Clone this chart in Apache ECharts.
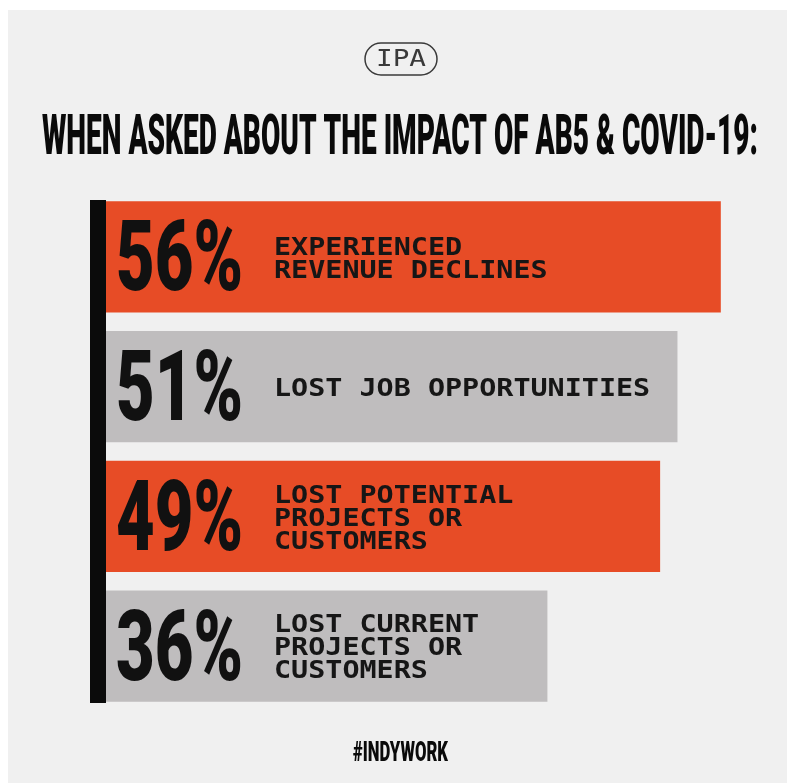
<!DOCTYPE html>
<html>
<head>
<meta charset="utf-8">
<script src="https://cdn.jsdelivr.net/npm/echarts@6/dist/echarts.min.js"></script>
<style>
html,body{margin:0;padding:0;background:#fff;}
#chart{width:787px;height:783px;}
</style>
</head>
<body>
<div id="chart"></div>
<script>
// ---- data ----
const categories = [
  'EXPERIENCED\nREVENUE DECLINES',
  'LOST JOB OPPORTUNITIES',
  'LOST POTENTIAL\nPROJECTS OR\nCUSTOMERS',
  'LOST CURRENT\nPROJECTS OR\nCUSTOMERS'
];
const values = [56, 51, 49, 36];
const pctLabels = values.map(v => v + '%');
const titleText = 'WHEN ASKED ABOUT THE IMPACT OF AB5 & COVID-19:';
const logoText = 'IPA';
const footerText = '#INDYWORK';

// ---- styles ----
const barColors = ['#e74c26', '#bfbdbe', '#e74c26', '#bfbdbe'];
const X_MIN = -14.91, X_MAX = 60;
const PCT_FONT = '900 98px Roboto';
const LBL_FONT = 'bold 24px "DejaVu Sans Mono"';
const TITLE_FONT = '900 56px Roboto';
const FOOT_FONT = '900 28px Roboto';
const LOGO_FONT = '23px "DejaVu Sans Mono"';

const mctx = document.createElement('canvas').getContext('2d');
function textW(t, f){ mctx.font = f; return mctx.measureText(t).width; }
const pctScale = 127 / textW('56%', PCT_FONT);
const lblScale = 17.1 / textW('M', LBL_FONT);
const titleScale = 716 / textW(titleText, TITLE_FONT);
const footScale = 95 / textW(footerText, FOOT_FONT);
const logoScale = 50 / textW(logoText, LOGO_FONT);

function renderItem(params, api){
  const idx = params.dataIndex;
  const v = api.value(0);
  const c = api.value(1);
  const p0 = api.coord([X_MIN, c]);
  const p1 = api.coord([v, c]);
  const band = api.size([0, 1])[1];
  const h = band * 0.858;
  const cy = p1[1];
  return {
    type: 'group',
    children: [
      {type:'rect', shape:{x:p0[0], y:cy - h/2, width:p1[0]-p0[0], height:h}, style:{fill:barColors[idx]}},
      {type:'text', x:p0[0] + 10, y:cy + 9, scaleX:pctScale,
        style:{text:pctLabels[idx], font:PCT_FONT, fill:'#111', align:'left', verticalAlign:'middle'}},
      {type:'text', x:p0[0] + 168, y:cy + 3, scaleX:lblScale,
        style:{text:categories[idx], font:LBL_FONT, fill:'#161616', align:'left', verticalAlign:'middle', lineHeight:23}}
    ]
  };
}

const chart = echarts.init(document.getElementById('chart'), null, {width:787, height:783, renderer:'canvas'});
chart.setOption({
  backgroundColor: '#ffffff',
  animation: false,
  grid: {left:106, top:192, bottom:72, right:31.5},
  xAxis: {type:'value', min:X_MIN, max:X_MAX, show:false},
  yAxis: {type:'category', data:categories, inverse:true, show:false},
  graphic: [
    {type:'rect', z:-10, shape:{x:8, y:10, width:779, height:773}, style:{fill:'#f0f0f0'}},
    {type:'rect', shape:{x:90, y:200, width:16, height:503}, style:{fill:'#0b0b0b'}},
    {type:'rect', shape:{x:365, y:43, width:72, height:32, r:16}, style:{fill:'none', stroke:'#3a3a3a', lineWidth:1.5}},
    {type:'text', x:401, y:60, scaleX:logoScale, style:{text:logoText, font:LOGO_FONT, fill:'#3a3a3a', align:'center', verticalAlign:'middle'}},
    {type:'text', x:400, y:140, scaleX:titleScale, style:{text:titleText, font:TITLE_FONT, fill:'#0a0a0a', align:'center', verticalAlign:'middle'}},
    {type:'text', x:400.5, y:754, scaleX:footScale, style:{text:footerText, font:FOOT_FONT, fill:'#0a0a0a', align:'center', verticalAlign:'middle'}}
  ],
  series: [{
    type:'custom',
    renderItem: renderItem,
    encode: {x:0, y:1},
    data: values.map((v, i) => [v, i])
  }]
});
</script>
</body>
</html>
